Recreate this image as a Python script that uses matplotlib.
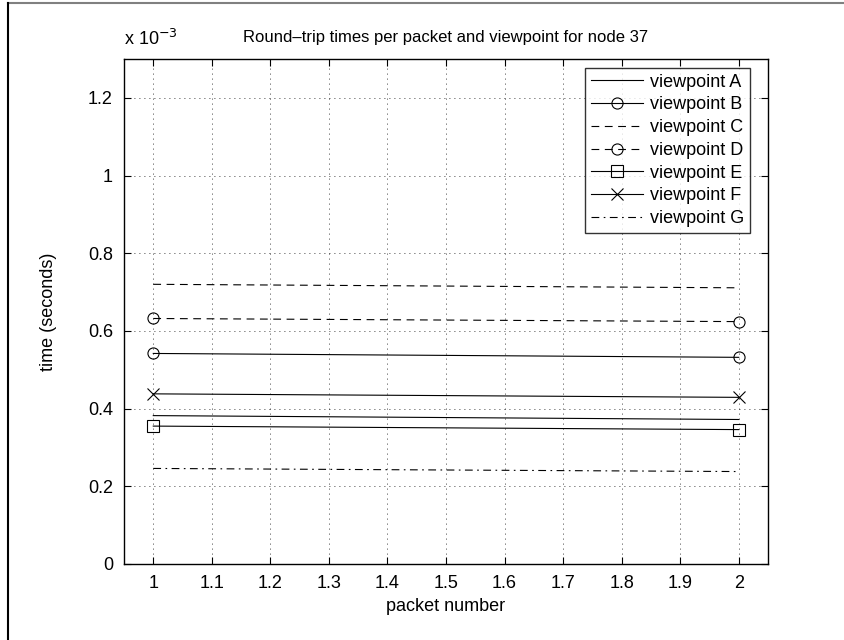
import matplotlib
matplotlib.use("Agg")
import matplotlib.pyplot as plt
from matplotlib.lines import Line2D
import numpy as np

plt.rcParams['font.family'] = ['Liberation Sans', 'DejaVu Sans']

packets = [1, 2]
series_names = ["viewpoint A", "viewpoint B", "viewpoint C", "viewpoint D",
                "viewpoint E", "viewpoint F", "viewpoint G"]
vp_A = [0.382e-3, 0.372e-3]
vp_B = [0.542e-3, 0.532e-3]
vp_C = [0.720e-3, 0.711e-3]
vp_D = [0.632e-3, 0.624e-3]
vp_E = [0.355e-3, 0.346e-3]
vp_F = [0.438e-3, 0.429e-3]
vp_G = [0.246e-3, 0.238e-3]

xticks = [1, 1.1, 1.2, 1.3, 1.4, 1.5, 1.6, 1.7, 1.8, 1.9, 2]
yticks = [0, 0.2e-3, 0.4e-3, 0.6e-3, 0.8e-3, 1.0e-3, 1.2e-3]
ytick_labels = ["0", "0.2", "0.4", "0.6", "0.8", "1", "1.2"]

fig = plt.figure(figsize=(8.45, 6.4), dpi=100)
ax = fig.add_axes([124/845, 1-564/640, (768-124)/845, (564-59)/640])

lw = 0.8
styles = [
    dict(color='k', ls='-', marker=None),
    dict(color='k', ls='-', marker='o', mfc='none'),
    dict(color='k', ls=(0, (7, 5)), marker=None),
    dict(color='k', ls=(0, (7, 5)), marker='o', mfc='none'),
    dict(color='k', ls='-', marker='s', mfc='none'),
    dict(color='k', ls='-', marker='x'),
    dict(color='k', ls=(0, (7, 4, 1.5, 4)), marker=None),
]
data = [vp_A, vp_B, vp_C, vp_D, vp_E, vp_F, vp_G]
for name, vals, st in zip(series_names, data, styles):
    ax.plot(packets, vals, lw=lw, ms=8, mew=0.8, label=name, **st)

fs = 13
ax.set_xlim(0.95, 2.05)
ax.set_ylim(0, 1.3e-3)
ax.set_xticks(xticks)
ax.set_xticklabels([f"{t:g}" for t in xticks])
ax.set_yticks(yticks)
ax.set_yticklabels(ytick_labels)
ax.tick_params(direction='in', top=True, right=True, length=5, width=0.8,
               labelsize=fs, pad=8)
ax.grid(True, color='k', ls=(0, (1, 5)), lw=0.6)
for s in ax.spines.values():
    s.set_linewidth(1.0)

ax.set_title("Round\u2013trip times per packet and viewpoint for node 37",
             fontsize=12, pad=12)
ax.set_xlabel("packet number", fontsize=fs, labelpad=4)
ax.set_ylabel("time (seconds)", fontsize=fs, labelpad=22)
ax.text(0.0, 1.02, r"x 10$^{-3}$", transform=ax.transAxes, fontsize=fs,
        ha='left', va='bottom')

leg = ax.legend(loc='upper right', fontsize=fs, frameon=True, fancybox=False,
                edgecolor='k', handlelength=2.9, borderpad=0.3,
                labelspacing=0.32, handletextpad=0.4, borderaxespad=0,
                bbox_to_anchor=(0.972, 0.982))
leg.get_frame().set_linewidth(1.0)

# figure border lines (top gray, left black)
fig.add_artist(Line2D([8/845, 1], [1-3/640, 1-3/640], color='0.5', lw=1.5,
                      transform=fig.transFigure))
fig.add_artist(Line2D([8/845, 8/845], [0, 1-3/640], color='k', lw=1.5,
                      transform=fig.transFigure))

fig.savefig("out.png", dpi=100)
